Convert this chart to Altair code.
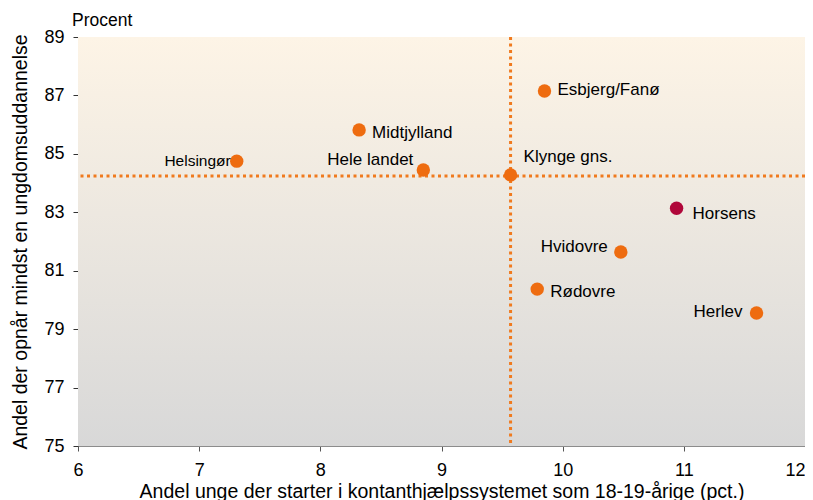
import altair as alt
import pandas as pd

# ---- data ----
names = ["Helsingør", "Midtjylland", "Hele landet", "Klynge gns.", "Esbjerg/Fanø",
         "Horsens", "Hvidovre", "Rødovre", "Herlev"]
x_vals = [7.31, 8.32, 8.85, 9.57, 9.85, 10.94, 10.48, 9.79, 11.60]
y_vals = [84.75, 85.82, 84.45, 84.28, 87.15, 83.14, 81.64, 80.37, 79.55]
groups = ["other", "other", "other", "other", "other", "focus", "other", "other", "other"]
avg_x = [9.57]
avg_y = [84.24]
x_ticks = [6, 7, 8, 9, 10, 11, 12]
y_ticks = [75, 77, 79, 81, 83, 85, 87, 89]

x_title = "Andel unge der starter i kontanthjælpssystemet som 18-19-årige (pct.)"
y_title = "Andel der opnår mindst en ungdomsuddannelse"
unit_title = ["Procent"]

df = pd.DataFrame({"name": names, "x": x_vals, "y": y_vals, "group": groups})

W, H = 727, 409
FONT = "Liberation Sans"
ORANGE = "#EE6C10"
RED = "#B0073A"
LINE = "#F07A1E"

xs = alt.Scale(domain=[6, 12], nice=False, zero=False)
ys = alt.Scale(domain=[75, 89], nice=False, zero=False)

bg = alt.Chart(pd.DataFrame({"a": [0]})).mark_rect(
    color=alt.LinearGradient(
        gradient="linear", x1=0, y1=0, x2=0, y2=1,
        stops=[alt.GradientStop(offset=0, color="#FDF4E6"),
               alt.GradientStop(offset=1, color="#D8D8D8")]
    )
).encode(x=alt.value(0), x2=alt.value(W), y=alt.value(0), y2=alt.value(H))

hrule = alt.Chart(pd.DataFrame({"v": avg_y})).mark_rule(
    color=LINE, strokeWidth=3, strokeDash=[3, 3.5]
).encode(y=alt.Y("v:Q", scale=ys))

vrule = alt.Chart(pd.DataFrame({"v": avg_x})).mark_rule(
    color=LINE, strokeWidth=3, strokeDash=[3, 3.5]
).encode(x=alt.X("v:Q", scale=xs))

points = alt.Chart(df).mark_circle(size=180, opacity=1).encode(
    x=alt.X("x:Q", scale=xs,
            axis=alt.Axis(values=x_ticks, title=x_title, grid=False, format="d",
                          labelFontSize=18, titleFontSize=19.5, labelPadding=10,
                          titlePadding=3, tickSize=5, domainColor="#8C8C8C",
                          tickColor="#555555", labelColor="#000000",
                          titleColor="#000000", titleFontWeight="normal",
                          labelAlign={"condition": {"test": "datum.value == 12", "value": "right"},
                                      "value": "center"},
                          labelFont=FONT, titleFont=FONT)),
    y=alt.Y("y:Q", scale=ys,
            axis=alt.Axis(values=y_ticks, title=y_title, grid=False,
                          labelFontSize=18, titleFontSize=19.5, labelPadding=9,
                          titlePadding=13, tickSize=5, domainColor="#555555",
                          tickColor="#333333", labelColor="#000000",
                          titleColor="#000000", titleFontWeight="normal",
                          labelFont=FONT, titleFont=FONT)),
    color=alt.Color("group:N", scale=alt.Scale(domain=["other", "focus"], range=[ORANGE, RED]),
                    legend=None),
)

unit = alt.Chart(pd.DataFrame({"t": unit_title})).mark_text(
    align="left", baseline="middle", fontSize=17.5, font=FONT, color="#000000"
).encode(x=alt.value(-6), y=alt.value(-16), text="t:N")

# label styling (align, dx, dy, fontsize)
label_style = {
    "Helsingør": ("right", -6, 0, 15.5),
    "Midtjylland": ("left", 13, 3, 17),
    "Hele landet": ("right", -10, -10, 17),
    "Klynge gns.": ("left", 13, -18, 17),
    "Esbjerg/Fanø": ("left", 13, -1, 17),
    "Horsens": ("left", 16, 6, 17),
    "Hvidovre": ("right", -13, -5, 17),
    "Rødovre": ("left", 13, 3, 17),
    "Herlev": ("right", -14, -1, 17),
}

labels = []
for n in names:
    al, dx, dy, fs = label_style[n]
    labels.append(
        alt.Chart(df).transform_filter(alt.datum.name == n).mark_text(
            align=al, baseline="middle", dx=dx, dy=dy, fontSize=fs, font=FONT, color="#000000"
        ).encode(x=alt.X("x:Q", scale=xs), y=alt.Y("y:Q", scale=ys), text="name:N")
    )

chart = alt.layer(bg, hrule, vrule, points, unit, *labels).properties(
    width=W, height=H,
    autosize=alt.AutoSizeParams(type="none"),
    padding={"left": 70, "top": 29, "right": 0, "bottom": 54},
).configure_view(stroke=None).configure(background="white")

chart.save("out.html", embed_options={"renderer": "svg", "actions": False})
